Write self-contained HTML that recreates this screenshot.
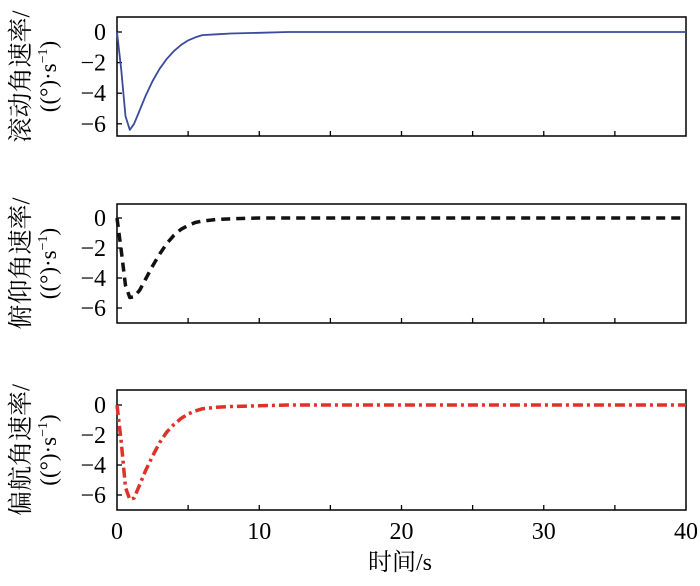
<!DOCTYPE html>
<html><head><meta charset="utf-8"><style>
body{margin:0;background:#fff}
svg text{font-family:"Liberation Serif","Noto Serif CJK SC",serif}
</style></head><body>
<svg width="700" height="581" viewBox="0 0 700 581" xmlns="http://www.w3.org/2000/svg" id="chart"></svg>
<script>
const times=[0,0.3,0.6,0.9,1.2,1.6,2,2.5,3,3.5,4,4.5,5,5.5,6,7,8,10,12,15,20,30,40];
const rollValues=[0,-2.5,-5.5,-6.4,-6.0,-5.1,-4.2,-3.2,-2.4,-1.75,-1.25,-0.85,-0.55,-0.35,-0.2,-0.15,-0.1,-0.05,0,0,0,0,0];
const pitchValues=[0,-2.2,-4.5,-5.3,-5.25,-4.8,-4.1,-3.2,-2.4,-1.7,-1.15,-0.75,-0.5,-0.3,-0.2,-0.1,-0.05,0,0,0,0,0,0];
const yawValues=[0,-2.5,-5.5,-6.3,-6.2,-5.3,-4.4,-3.4,-2.5,-1.8,-1.3,-0.9,-0.6,-0.4,-0.25,-0.15,-0.1,-0.05,0,0,0,0,0];
const xTicks=[0,10,20,30,40];
const yTicks=[0,-2,-4,-6];
const svg=document.getElementById('chart');
const NS='http://www.w3.org/2000/svg';
const X0=117,X1=686;
function xs(t){return X0+(t/40)*(X1-X0);}
function mk(tag,attrs,parent){const e=document.createElementNS(NS,tag);for(const k in attrs)e.setAttribute(k,attrs[k]);(parent||svg).appendChild(e);return e;}
const panels=[
 {top:17,bottom:136,zero:32,scale:15.3,vals:rollValues,color:'#3a4a9c',dash:'',w:1.8,t1:'滚动角速率/',name:'roll'},
 {top:204,bottom:323,zero:218,scale:15,vals:pitchValues,color:'#111',dash:'9,6',w:3.5,t1:'俯仰角速率/',name:'pitch'},
 {top:390,bottom:510,zero:405,scale:15,vals:yawValues,color:'#e0302a',dash:'10,4,3,4',w:3.5,t1:'偏航角速率/',name:'yaw'}
];
panels.forEach(p=>{
 const g=mk('g',{});
 
 
 const ys=v=>p.zero-v*p.scale;
 const f=mk('rect',{x:X0,y:p.top,width:X1-X0,height:p.bottom-p.top,fill:'none',stroke:'#000','stroke-width':1.5},g);
 
 
 for(let t=5;t<40;t+=5){const l=mk('line',{x1:xs(t),x2:xs(t),y1:p.bottom,y2:p.bottom-5,stroke:'#000','stroke-width':1.3},g);
  
  }
 yTicks.forEach(v=>{
  const l=mk('line',{x1:X0,x2:X0+5,y1:ys(v),y2:ys(v),stroke:'#000','stroke-width':1.3},g);
  
  
  const tx=mk('text',{x:106,y:ys(v)+8,'text-anchor':'end','font-size':24},g);
  tx.textContent=(v<0?'\u2212':'')+Math.abs(v);
  
  
 });
 const d=times.map((t,i)=>(i?'L':'M')+xs(t).toFixed(1)+','+ys(p.vals[i]).toFixed(1)).join(' ');
 const path=mk('path',{d:d,fill:'none',stroke:p.color,'stroke-width':p.w,'stroke-dasharray':p.dash,'stroke-linejoin':'round'},g);
 
 
 const cy=(p.top+p.bottom)/2;
 const t1=mk('text',{x:0,y:0,'font-size':25,'text-anchor':'middle',transform:`translate(29,${cy}) rotate(-90)`},g);
 t1.textContent=p.t1;
 
 
 const t2=mk('text',{x:0,y:0,'font-size':23,'text-anchor':'middle',transform:`translate(56,${cy}) rotate(-90)`},g);
 t2.innerHTML='((°)·s<tspan dy="-9" font-size="14">−1</tspan><tspan dy="9">)</tspan>';
 
 
});
xTicks.forEach(t=>{
 const tx=mk('text',{x:xs(t),y:539,'text-anchor':'middle','font-size':24});
 tx.textContent=t;
 
 
});
const xt=mk('text',{x:400,y:570,'text-anchor':'middle','font-size':24});
xt.textContent='时间/s';


</script>
</body></html>
